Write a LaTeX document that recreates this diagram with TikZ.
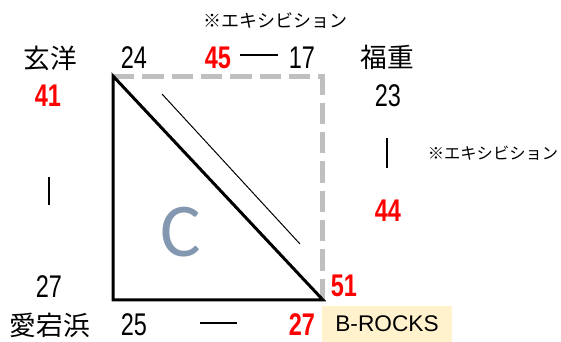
\documentclass[tikz,border=0pt]{standalone}
\usepackage{fontspec}
\setmainfont{Noto Sans CJK JP}
\newfontfamily\numfont[FakeStretch=0.75]{Liberation Sans}
\newfontfamily\latinfont{Liberation Sans}
\newfontfamily\calfont{Carlito}
\usepackage{xcolor}
\usepackage{tikz}
\usetikzlibrary{calc,positioning}
\definecolor{winred}{RGB}{255,0,0}
\definecolor{dashgray}{RGB}{191,191,191}
\definecolor{groupblue}{RGB}{132,151,176}
\definecolor{tagyellow}{RGB}{255,242,204}

\begin{document}
\begin{tikzpicture}[x=0.75pt,y=0.75pt,yscale=-1,xscale=1,
  score/.style={inner sep=0pt,font=\numfont\fontsize{23.5}{26}\selectfont},
  winscore/.style={inner sep=0pt,text=winred,font=\numfont\bfseries\fontsize{23.5}{26}\selectfont},
  team/.style={inner sep=0pt,font=\fontsize{20}{24}\selectfont},
  note/.style={inner sep=0pt},
  link/.style={line width=0.9pt}]
\useasboundingbox (0,0) rectangle (561,342);

%Shape: Dashed frame
\draw [color=dashgray, line width=3.75pt, dash pattern=on 16pt off 6pt] (113,77) -- (322,77) -- (322,306) ;
%Shape: Triangle
\draw [line width=2.25pt, line join=miter] (113,76) -- (113,300) -- (323,300) -- cycle ;
%Straight Lines
\draw [line width=0.75pt] (162,94) -- (300,244) ;

% Text Node
\draw (181,232) node [inner sep=0pt, text=groupblue, font=\calfont\fontsize{57}{60}\selectfont] (grpC) {C};

% Text Node
\draw (275,21) node [note, font=\fontsize{13.5}{16}\selectfont] (noteTop) {※エキシビション};
% Text Node
\draw (493,153) node [note, font=\fontsize{12.2}{15}\selectfont] (noteRight) {※エキシビション};

% Text Node
\draw (50,58) node [team] (genyo) {玄洋};
% Text Node
\draw (387,57) node [team] (fukushige) {福重};
% Text Node
\draw (50,325) node [team] (atagohama) {愛宕浜};

% Text Node
\draw (134,58) node [score] (s24) {24};
% Text Node
\draw (218,58) node [winscore] (s45) {45};
% Text Node
\draw (302,58) node [score] (s17) {17};
% Text Node
\draw (48,96) node [winscore] (s41) {41};
% Text Node
\draw (49,287) node [score] (s27l) {27};
% Text Node
\draw (388,96) node [score] (s23) {23};
% Text Node
\draw (388,211) node [winscore] (s44) {44};
% Text Node
\draw (344,286) node [winscore] (s51) {51};
% Text Node
\draw (134,325) node [score] (s25) {25};
% Text Node
\draw (302,325) node [winscore] (s27r) {27};

% Text Node
\draw (387,324) node [inner sep=0pt, fill=tagyellow, minimum width=97.5pt, minimum height=27pt, font=\latinfont\fontsize{17}{20}\selectfont] (brocks) {B-ROCKS};

%Straight Lines
\draw [link] ($(s45.east)+(9,-3)$) -- ($(s17.west)+(-11,-3)$) ;
%Straight Lines
\draw [link] ($(s25.east)+(53,-2)$) -- ($(s27r.west)+(-52,-2)$) ;
%Straight Lines
\draw [link] ($(s41.south)+(1,70)$) -- ($(s27l.north)+(0,-71)$) ;
%Straight Lines
\draw [link] ($(s23.south)+(-1,31)$) -- ($(s44.north)+(-1,-32)$) ;

\end{tikzpicture}
\end{document}
